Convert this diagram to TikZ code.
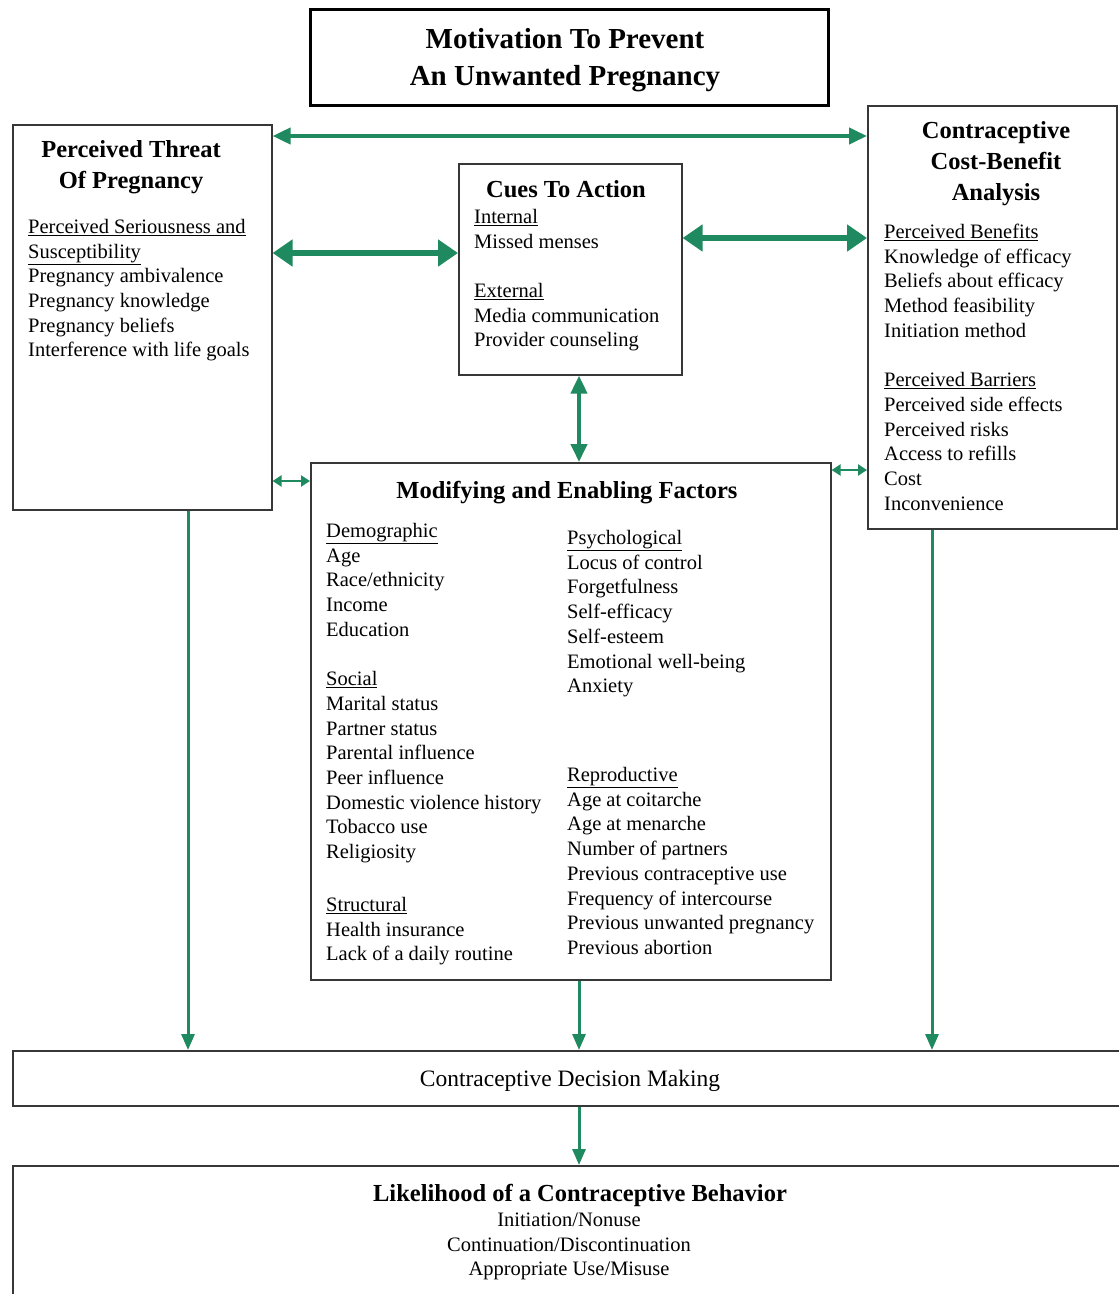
\documentclass[tikz,border=0pt]{standalone}
\usepackage{fontspec}
\setmainfont{Liberation Serif}
\usetikzlibrary{arrows.meta}
\definecolor{arrowgreen}{RGB}{31,138,96}
\definecolor{boxgray}{RGB}{55,55,55}
\newcommand\bodyfont{\fontsize{20.5}{24.7}\selectfont}
\newcommand\headfont{\bfseries\fontsize{24.5}{30.7}\selectfont}
\newcommand\bigtitlefont{\bfseries\fontsize{29}{37}\selectfont}
\newcommand\ul[1]{\underline{#1}}
\begin{document}
\begin{tikzpicture}[x=1pt,y=-1pt,
  box/.style={draw=boxgray,line width=1.6pt,anchor=north west,inner sep=0pt},
  txt/.style={anchor=north west,align=left,inner sep=0pt,font=\bodyfont},
  head/.style={anchor=north,align=center,inner sep=0pt,font=\headfont},
  link/.style={draw=arrowgreen,line width=4pt,{Triangle[length=18pt,width=16pt]}-{Triangle[length=18pt,width=16pt]}},
  biglink/.style={draw=arrowgreen,line width=6pt,{Triangle[length=20pt,width=26pt]}-{Triangle[length=20pt,width=26pt]}},
  smalllink/.style={draw=arrowgreen,line width=2.5pt,{Triangle[length=9pt,width=11pt]}-{Triangle[length=9pt,width=11pt]}},
  down/.style={draw=arrowgreen,line width=3pt,-{Triangle[length=16pt,width=13pt]}}
]
\useasboundingbox[fill=white] (0,0) rectangle (1119,1294);

% boxes
\node[box,draw=black,line width=3pt,minimum width=518pt,minimum height=96pt] (title) at (309,8) {};
\node[align=center,font=\bigtitlefont,inner sep=0pt] (titleT) at (565,60) {Motivation To Prevent\\An Unwanted Pregnancy};
\node[box,minimum width=259pt,minimum height=385pt] (threat) at (12,124) {};
\node[box,minimum width=223pt,minimum height=211pt] (cues) at (458,163) {};
\node[box,minimum width=249pt,minimum height=423pt] (cost) at (867,105) {};
\node[box,minimum width=520pt,minimum height=517pt] (mod) at (310,462) {};
\node[box,minimum width=1110pt,minimum height=55pt] (dec) at (12,1050) {};
\node[font=\fontsize{23.5}{28}\selectfont,inner sep=0pt] (decT) at (570,1081) {Contraceptive Decision Making};
\node[box,minimum width=1110pt,minimum height=140pt] (lik) at (12,1165) {};

% texts: perceived threat
\node[head] (threatT) at (131,136) {\strut Perceived Threat\\Of Pregnancy};
\node[txt] (threatB) at (28,216) {\strut\ul{Perceived Seriousness and}\\\ul{Susceptibility}\\Pregnancy ambivalence\\Pregnancy knowledge\\Pregnancy beliefs\\Interference with life goals};

% cues to action
\node[head] (cuesT) at (566,176) {\strut Cues To Action};
\node[txt] (cuesB) at (474,206) {\strut\ul{Internal}\\Missed menses\\[24.7pt]\ul{External}\\Media communication\\Provider counseling};

% cost-benefit
\node[head] (costT) at (996,117) {\strut Contraceptive\\Cost-Benefit\\Analysis};
\node[txt] (costB) at (884,221) {\strut\ul{Perceived Benefits}\\Knowledge of efficacy\\Beliefs about efficacy\\Method feasibility\\Initiation method\\[24.7pt]\ul{Perceived Barriers}\\Perceived side effects\\Perceived risks\\Access to refills\\Cost\\Inconvenience};

% modifying
\node[head] (modT) at (567,477) {\strut Modifying and Enabling Factors};
\node[txt] (modL) at (326,520) {\strut\ul{Demographic}\\Age\\Race/ethnicity\\Income\\Education\\[24.7pt]\ul{Social}\\Marital status\\Partner status\\Parental influence\\Peer influence\\Domestic violence history\\Tobacco use\\Religiosity};
\node[txt] (modS) at (326,894) {\strut\ul{Structural}\\Health insurance\\Lack of a daily routine};
\node[txt] (modP) at (567,527) {\strut\ul{Psychological}\\Locus of control\\Forgetfulness\\Self-efficacy\\Self-esteem\\Emotional well-being\\Anxiety};
\node[txt] (modR) at (567,764) {\strut\ul{Reproductive}\\Age at coitarche\\Age at menarche\\Number of partners\\Previous contraceptive use\\Frequency of intercourse\\Previous unwanted pregnancy\\Previous abortion};

% likelihood
\node[head] (likT) at (580,1180) {\strut Likelihood of a Contraceptive Behavior};
\node[anchor=north,align=center,inner sep=0pt,font=\bodyfont] (likB) at (569,1209) {\strut Initiation/Nonuse\\Continuation/Discontinuation\\Appropriate Use/Misuse};

% connectors
\draw[link] (threat.east |- 0,136) -- (cost.west |- 0,136);
\draw[biglink] (threat.east |- 0,253) -- (cues.west |- 0,253);
\draw[biglink] (cues.east |- 0,238) -- (cost.west |- 0,238);
\draw[link] (cues.south -| 579,0) -- (mod.north -| 579,0);
\draw[smalllink] (threat.east |- 0,481) -- (mod.west |- 0,481);
\draw[smalllink] (mod.east |- 0,470) -- (cost.west |- 0,470);
\draw[down] (threat.south -| 188,0) -- (dec.north -| 188,0);
\draw[down] (mod.south -| 579,0) -- (dec.north -| 579,0);
\draw[down] (cost.south -| 932,0) -- (dec.north -| 932,0);
\draw[down] (dec.south -| 579,0) -- (lik.north -| 579,0);
\end{tikzpicture}
\end{document}
